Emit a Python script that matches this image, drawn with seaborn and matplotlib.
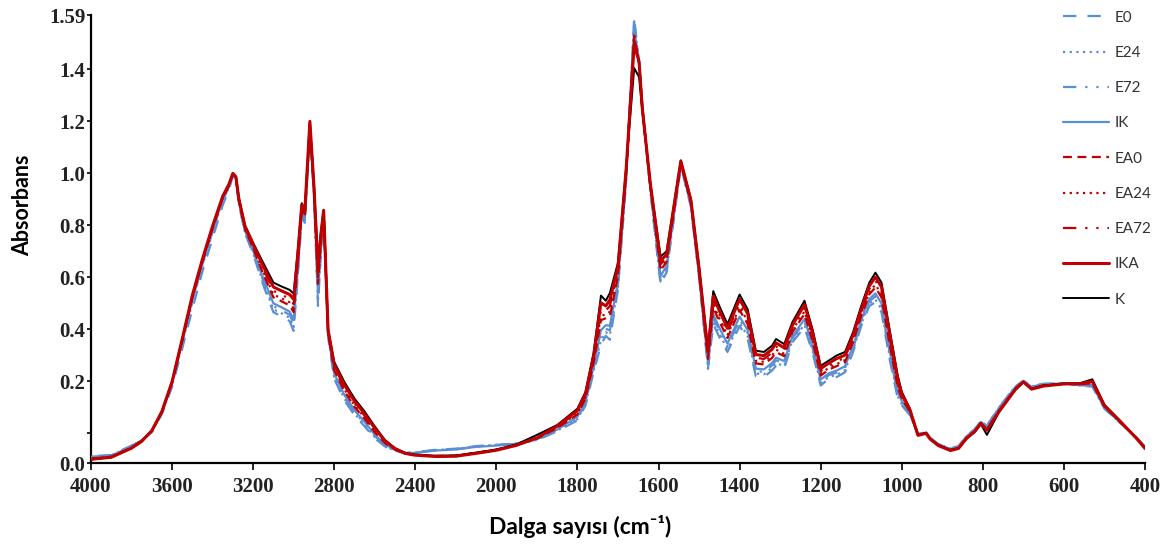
import numpy as np
import pandas as pd
import matplotlib
matplotlib.use("Agg")
import matplotlib.pyplot as plt
import seaborn as sns

# wavenumbers (cm-1) at which the spectra were read
wavenumber = [
    4000, 3900, 3800, 3750, 3700, 3650, 3600, 3550, 3500, 3450,
    3400, 3350, 3320, 3300, 3285, 3270, 3240, 3200, 3150, 3100, 3060, 3020,
    3000, 2980, 2960, 2945, 2920, 2900, 2880, 2865, 2852, 2830,
    2800, 2750, 2700, 2650, 2600, 2550, 2500, 2450, 2400, 2300,
    2200, 2100, 2000, 1950, 1900, 1850, 1800, 1780, 1760, 1742,
    1730, 1720, 1700, 1680, 1660, 1648, 1640, 1620, 1595, 1580,
    1560, 1545, 1520, 1500, 1478, 1465, 1450, 1430, 1400, 1380,
    1360, 1340, 1320, 1310, 1290, 1270, 1240, 1220, 1200, 1180,
    1160, 1140, 1120, 1100, 1080, 1065, 1050, 1030, 1010, 1000,
    980, 960, 940, 930, 910, 880, 860, 840, 820, 805,
    790, 760, 720, 700, 680, 650, 600, 560, 530, 500,
    460, 420, 400,
]

k = [
    -0.100, -0.092, -0.057, -0.030, 0.010, 0.084, 0.198, 0.360, 0.528, 0.668,
    0.795, 0.910, 0.955, 0.998, 0.985, 0.905, 0.800, 0.733, 0.656, 0.580, 0.565, 0.552,
    0.537, 0.700, 0.885, 0.860, 1.190, 0.960, 0.660, 0.780, 0.860, 0.400,
    0.275, 0.198, 0.134, 0.084, 0.027, -0.025, -0.057, -0.075, -0.082, -0.086,
    -0.085, -0.074, -0.062, -0.042, -0.006, 0.032, 0.095, 0.160, 0.310, 0.530,
    0.510, 0.540, 0.656, 1.020, 1.405, 1.370, 1.240, 0.960, 0.680, 0.700,
    0.900, 1.050, 0.900, 0.640, 0.324, 0.547, 0.490, 0.420, 0.534, 0.477,
    0.318, 0.313, 0.337, 0.363, 0.343, 0.427, 0.510, 0.400, 0.260, 0.280,
    0.300, 0.313, 0.390, 0.490, 0.580, 0.618, 0.580, 0.400, 0.222, 0.160,
    0.095, -0.006, 0.002, -0.020, -0.045, -0.064, -0.058, -0.020, 0.005, 0.036,
    -0.006, 0.082, 0.170, 0.196, 0.172, 0.184, 0.192, 0.193, 0.208, 0.110,
    0.046, -0.020, -0.057,
]

ika = [
    -0.100, -0.092, -0.057, -0.031, 0.010, 0.084, 0.198, 0.362, 0.530, 0.670,
    0.797, 0.912, 0.957, 1.000, 0.987, 0.900, 0.796, 0.727, 0.643, 0.563, 0.548, 0.534,
    0.516, 0.685, 0.878, 0.853, 1.200, 0.954, 0.635, 0.768, 0.857, 0.396,
    0.265, 0.187, 0.124, 0.075, 0.020, -0.029, -0.059, -0.077, -0.084, -0.089,
    -0.088, -0.077, -0.065, -0.046, -0.017, 0.028, 0.088, 0.152, 0.299, 0.502,
    0.490, 0.513, 0.641, 1.013, 1.495, 1.430, 1.250, 0.958, 0.664, 0.688,
    0.893, 1.047, 0.896, 0.634, 0.313, 0.528, 0.472, 0.404, 0.516, 0.460,
    0.303, 0.299, 0.323, 0.348, 0.329, 0.415, 0.495, 0.387, 0.249, 0.270,
    0.288, 0.301, 0.378, 0.478, 0.567, 0.601, 0.563, 0.383, 0.209, 0.152,
    0.091, -0.008, 0.000, -0.022, -0.047, -0.066, -0.058, -0.019, 0.007, 0.038,
    0.012, 0.084, 0.168, 0.198, 0.170, 0.182, 0.190, 0.191, 0.200, 0.106,
    0.044, -0.021, -0.058,
]

ea72 = [
    -0.098, -0.091, -0.056, -0.030, 0.009, 0.083, 0.197, 0.360, 0.527, 0.667,
    0.794, 0.909, 0.955, 0.999, 0.986, 0.898, 0.792, 0.721, 0.632, 0.548, 0.533, 0.518,
    0.497, 0.672, 0.871, 0.846, 1.195, 0.949, 0.612, 0.758, 0.854, 0.392,
    0.257, 0.178, 0.116, 0.068, 0.014, -0.032, -0.060, -0.077, -0.084, -0.088,
    -0.087, -0.076, -0.064, -0.045, -0.018, 0.025, 0.082, 0.145, 0.289, 0.477,
    0.472, 0.490, 0.627, 1.006, 1.510, 1.425, 1.250, 0.955, 0.650, 0.678,
    0.886, 1.044, 0.892, 0.629, 0.303, 0.511, 0.456, 0.390, 0.500, 0.445,
    0.291, 0.286, 0.310, 0.334, 0.317, 0.405, 0.481, 0.375, 0.239, 0.260,
    0.277, 0.291, 0.368, 0.468, 0.555, 0.586, 0.548, 0.368, 0.197, 0.145,
    0.088, -0.007, 0.000, -0.021, -0.046, -0.065, -0.057, -0.018, 0.008, 0.039,
    0.013, 0.086, 0.170, 0.198, 0.171, 0.183, 0.190, 0.190, 0.197, 0.105,
    0.043, -0.021, -0.057,
]

ea24 = [
    -0.098, -0.090, -0.055, -0.029, 0.009, 0.082, 0.196, 0.358, 0.524, 0.664,
    0.791, 0.907, 0.953, 0.998, 0.985, 0.896, 0.788, 0.716, 0.622, 0.534, 0.519, 0.504,
    0.480, 0.660, 0.865, 0.840, 1.190, 0.944, 0.592, 0.748, 0.852, 0.388,
    0.249, 0.170, 0.108, 0.061, 0.009, -0.035, -0.061, -0.078, -0.083, -0.088,
    -0.087, -0.076, -0.064, -0.045, -0.019, 0.022, 0.077, 0.139, 0.280, 0.454,
    0.456, 0.468, 0.615, 1.000, 1.520, 1.425, 1.250, 0.950, 0.637, 0.668,
    0.880, 1.042, 0.888, 0.624, 0.294, 0.496, 0.442, 0.377, 0.486, 0.431,
    0.279, 0.275, 0.299, 0.322, 0.306, 0.396, 0.469, 0.364, 0.230, 0.252,
    0.267, 0.282, 0.359, 0.459, 0.544, 0.572, 0.534, 0.354, 0.187, 0.139,
    0.085, -0.006, 0.001, -0.021, -0.046, -0.065, -0.057, -0.018, 0.008, 0.040,
    0.014, 0.087, 0.171, 0.199, 0.172, 0.184, 0.191, 0.189, 0.195, 0.104,
    0.043, -0.020, -0.056,
]

ea0 = [
    -0.097, -0.090, -0.055, -0.029, 0.008, 0.082, 0.195, 0.356, 0.521, 0.660,
    0.788, 0.905, 0.952, 0.997, 0.985, 0.895, 0.785, 0.712, 0.613, 0.523, 0.508, 0.492,
    0.466, 0.650, 0.860, 0.835, 1.185, 0.940, 0.575, 0.740, 0.850, 0.385,
    0.243, 0.163, 0.102, 0.056, 0.004, -0.037, -0.062, -0.078, -0.083, -0.087,
    -0.086, -0.075, -0.063, -0.044, -0.020, 0.020, 0.073, 0.134, 0.273, 0.435,
    0.443, 0.450, 0.605, 0.995, 1.530, 1.425, 1.250, 0.948, 0.627, 0.660,
    0.875, 1.040, 0.885, 0.620, 0.286, 0.484, 0.430, 0.367, 0.474, 0.420,
    0.269, 0.265, 0.290, 0.312, 0.297, 0.389, 0.459, 0.355, 0.222, 0.245,
    0.259, 0.274, 0.352, 0.452, 0.535, 0.561, 0.523, 0.343, 0.178, 0.134,
    0.083, -0.005, 0.001, -0.020, -0.045, -0.064, -0.056, -0.017, 0.009, 0.040,
    0.015, 0.088, 0.172, 0.199, 0.173, 0.185, 0.191, 0.188, 0.193, 0.103,
    0.042, -0.020, -0.056,
]

ik = [
    -0.092, -0.086, -0.050, -0.028, 0.007, 0.080, 0.192, 0.350, 0.512, 0.652,
    0.780, 0.900, 0.948, 0.995, 0.983, 0.890, 0.779, 0.703, 0.596, 0.500, 0.485, 0.468,
    0.437, 0.630, 0.850, 0.825, 1.180, 0.932, 0.541, 0.724, 0.846, 0.379,
    0.230, 0.148, 0.089, 0.044, -0.005, -0.042, -0.064, -0.076, -0.076, -0.066,
    -0.062, -0.052, -0.047, -0.040, -0.023, 0.015, 0.064, 0.124, 0.258, 0.397,
    0.416, 0.414, 0.584, 0.985, 1.560, 1.420, 1.255, 0.942, 0.605, 0.644,
    0.865, 1.036, 0.879, 0.612, 0.271, 0.458, 0.406, 0.345, 0.449, 0.397,
    0.249, 0.246, 0.271, 0.291, 0.278, 0.373, 0.439, 0.337, 0.207, 0.231,
    0.242, 0.258, 0.336, 0.436, 0.517, 0.538, 0.500, 0.320, 0.160, 0.124,
    0.078, -0.004, 0.003, -0.018, -0.043, -0.060, -0.051, -0.011, 0.014, 0.044,
    0.027, 0.097, 0.178, 0.201, 0.178, 0.189, 0.192, 0.186, 0.186, 0.098,
    0.040, -0.018, -0.054,
]

e72 = [
    -0.090, -0.085, -0.049, -0.027, 0.006, 0.079, 0.190, 0.347, 0.508, 0.648,
    0.776, 0.897, 0.946, 0.994, 0.982, 0.888, 0.776, 0.699, 0.587, 0.489, 0.473, 0.456,
    0.423, 0.620, 0.845, 0.820, 1.175, 0.928, 0.524, 0.716, 0.844, 0.376,
    0.223, 0.141, 0.083, 0.038, -0.010, -0.045, -0.066, -0.076, -0.075, -0.065,
    -0.061, -0.051, -0.046, -0.040, -0.024, 0.013, 0.059, 0.118, 0.251, 0.378,
    0.402, 0.396, 0.574, 0.980, 1.575, 1.425, 1.255, 0.938, 0.594, 0.636,
    0.860, 1.034, 0.876, 0.608, 0.263, 0.445, 0.394, 0.334, 0.437, 0.386,
    0.240, 0.236, 0.261, 0.281, 0.269, 0.365, 0.428, 0.328, 0.199, 0.224,
    0.234, 0.251, 0.328, 0.428, 0.508, 0.527, 0.489, 0.309, 0.152, 0.118,
    0.075, -0.004, 0.003, -0.018, -0.042, -0.059, -0.050, -0.010, 0.015, 0.045,
    0.028, 0.098, 0.179, 0.201, 0.179, 0.190, 0.192, 0.185, 0.184, 0.097,
    0.039, -0.018, -0.053,
]

e24 = [
    -0.090, -0.085, -0.049, -0.027, 0.006, 0.078, 0.188, 0.344, 0.503, 0.644,
    0.772, 0.894, 0.944, 0.993, 0.981, 0.886, 0.773, 0.694, 0.579, 0.477, 0.462, 0.444,
    0.408, 0.610, 0.840, 0.815, 1.170, 0.924, 0.507, 0.708, 0.842, 0.373,
    0.217, 0.134, 0.076, 0.033, -0.014, -0.047, -0.067, -0.075, -0.074, -0.064,
    -0.060, -0.050, -0.045, -0.039, -0.025, 0.010, 0.055, 0.113, 0.243, 0.359,
    0.389, 0.378, 0.563, 0.975, 1.585, 1.425, 1.258, 0.934, 0.584, 0.628,
    0.855, 1.032, 0.873, 0.604, 0.256, 0.433, 0.382, 0.324, 0.425, 0.374,
    0.230, 0.227, 0.252, 0.270, 0.259, 0.358, 0.418, 0.319, 0.192, 0.217,
    0.225, 0.243, 0.321, 0.421, 0.499, 0.515, 0.477, 0.297, 0.143, 0.113,
    0.073, -0.003, 0.004, -0.017, -0.042, -0.059, -0.050, -0.010, 0.015, 0.046,
    0.029, 0.099, 0.180, 0.202, 0.180, 0.190, 0.193, 0.184, 0.182, 0.096,
    0.039, -0.017, -0.053,
]

e0 = [
    -0.088, -0.083, -0.047, -0.026, 0.004, 0.074, 0.178, 0.325, 0.477, 0.623,
    0.750, 0.878, 0.935, 0.990, 0.978, 0.880, 0.770, 0.690, 0.570, 0.466, 0.450, 0.432,
    0.394, 0.600, 0.835, 0.810, 1.165, 0.920, 0.490, 0.700, 0.840, 0.370,
    0.210, 0.127, 0.070, 0.027, -0.019, -0.050, -0.068, -0.075, -0.073, -0.063,
    -0.059, -0.049, -0.044, -0.039, -0.026, 0.008, 0.050, 0.108, 0.236, 0.340,
    0.375, 0.360, 0.553, 0.970, 1.600, 1.420, 1.260, 0.930, 0.573, 0.620,
    0.850, 1.030, 0.870, 0.600, 0.248, 0.420, 0.370, 0.313, 0.413, 0.363,
    0.220, 0.217, 0.242, 0.260, 0.250, 0.350, 0.408, 0.310, 0.184, 0.210,
    0.217, 0.235, 0.313, 0.413, 0.490, 0.504, 0.466, 0.286, 0.134, 0.108,
    0.070, -0.002, 0.004, -0.017, -0.041, -0.058, -0.049, -0.009, 0.016, 0.046,
    0.030, 0.100, 0.181, 0.202, 0.181, 0.191, 0.193, 0.183, 0.180, 0.095,
    0.038, -0.017, -0.052,
]

series_names = ["E0", "E24", "E72", "IK", "EA0", "EA24", "EA72", "IKA", "K"]
series_values = [e0, e24, e72, ik, ea0, ea24, ea72, ika, k]

blue = "#5B8FD4"
red = "#C00000"
styles = {
    "E0": dict(color=blue, lw=1.6, ls=(0, (6, 5))),
    "E24": dict(color=blue, lw=1.6, ls=(0, (1, 2))),
    "E72": dict(color=blue, lw=1.6, ls=(0, (6, 4, 1, 4, 1, 4))),
    "IK": dict(color=blue, lw=1.6, ls="-"),
    "EA0": dict(color=red, lw=1.6, ls=(0, (4, 2.5))),
    "EA24": dict(color=red, lw=1.6, ls=(0, (1, 2))),
    "EA72": dict(color=red, lw=1.6, ls=(0, (6, 4, 1, 4, 1, 4))),
    "IKA": dict(color=red, lw=2.2, ls="-"),
    "K": dict(color="black", lw=1.4, ls="-"),
}

rows = []
for name, vals in zip(series_names, series_values):
    for w, v in zip(wavenumber, vals):
        rows.append({"wavenumber": w, "absorbance": v, "sample": name})
df = pd.DataFrame(rows)

sns.set_theme(style="white")
plt.rcParams["font.family"] = ["Lato", "DejaVu Sans"]

fig = plt.figure(figsize=(11.66, 5.45), dpi=100)
ax = fig.add_axes([0.078, 0.150, 0.904, 0.822])

for name in series_names:
    st = styles[name]
    sns.lineplot(
        data=df[df["sample"] == name], x="wavenumber", y="absorbance", ax=ax,
        color=st["color"], linewidth=st["lw"], linestyle=st["ls"], label=name,
        zorder=4 if name == "IKA" else 3,
    )


def fwd(x):
    x = np.asarray(x, dtype=float)
    return np.where(x > 2000, 2000 + (x - 2000) / 2, x)


def inv(u):
    u = np.asarray(u, dtype=float)
    return np.where(u > 2000, 2000 + (u - 2000) * 2, u)


# the wavenumber axis is compressed by half above 2000 cm-1
ax.set_xscale("function", functions=(fwd, inv))
ax.set_xlim(4000, 400)
xt = [4000, 3600, 3200, 2800, 2400, 2000, 1800, 1600, 1400, 1200, 1000, 800, 600, 400]
ax.set_xticks(xt)
ax.set_xticklabels([str(t) for t in xt])
ax.minorticks_off()

ymin, ymax = -0.115, 1.608
ax.set_ylim(ymin, ymax)
ax.set_yticks([ymin, 0, 0.2, 0.4, 0.6, 0.8, 1.0, 1.2, 1.4, ymax])
ax.set_yticklabels(["0.0", "", "0.2", "0.4", "0.6", "0.8", "1.0", "1.2", "1.4", "1.59"])

for lab in ax.get_xticklabels() + ax.get_yticklabels():
    lab.set_family("Liberation Serif")
    lab.set_fontweight("bold")
    lab.set_fontsize(15)
    lab.set_color("#222222")

ax.tick_params(axis="x", direction="out", length=5, width=1.2, pad=5, color="black", bottom=True)
ax.tick_params(axis="y", direction="out", length=3, width=1.2, pad=1, color="black", left=True)
sns.despine(ax=ax)
for sp in ["left", "bottom"]:
    ax.spines[sp].set_color("black")
    ax.spines[sp].set_linewidth(1.6)

ax.set_xlabel("Dalga sayısı (cm⁻¹)", fontsize=16.5, fontweight="bold", color="black")
ax.set_ylabel("Absorbans", fontsize=15.5, fontweight="bold", color="black")
ax.xaxis.set_label_coords(0.464, -0.115)
ax.yaxis.set_label_coords(-0.055, 0.576)

ax.legend(
    loc="upper left", bbox_to_anchor=(1052 / 1166, 1.0), bbox_transform=fig.transFigure,
    frameon=False, fontsize=11, handlelength=3.0, handletextpad=0.4,
    labelspacing=1.39, borderpad=0.2, labelcolor="#333333",
)

fig.savefig("out.png", dpi=100)
